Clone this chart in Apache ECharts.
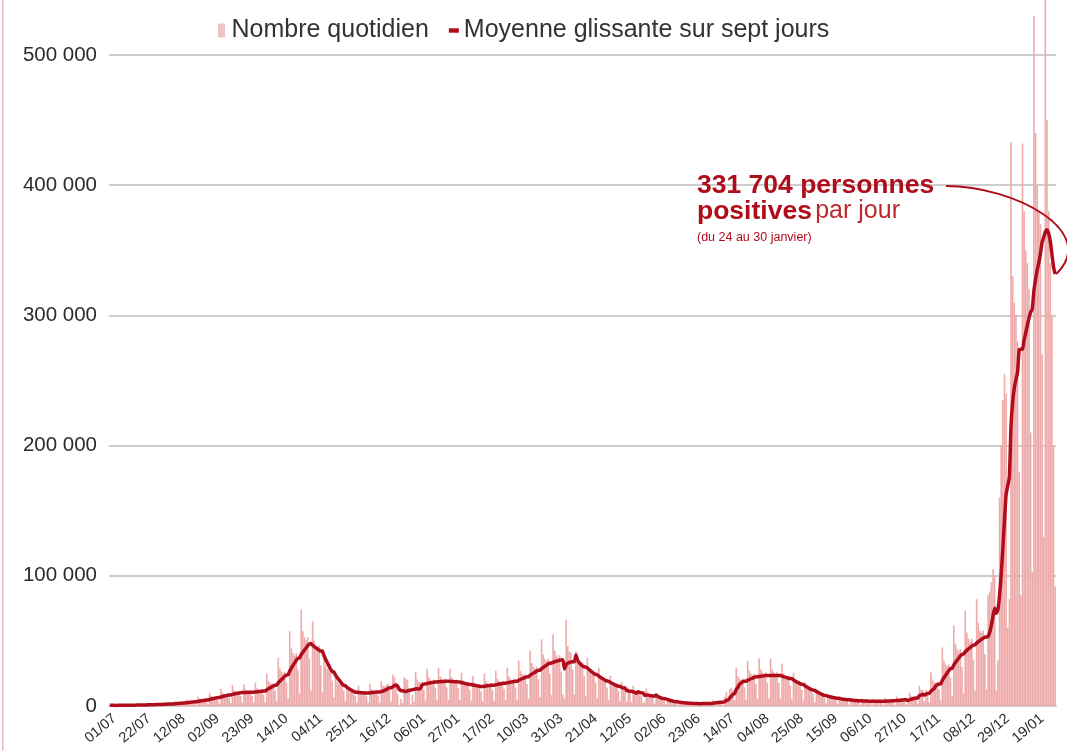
<!DOCTYPE html>
<html>
<head>
<meta charset="utf-8">
<script src="https://cdn.jsdelivr.net/npm/echarts@6/dist/echarts.min.js"></script>
<style>
  html, body { margin: 0; padding: 0; background: #ffffff; }
  #chart { width: 1067px; height: 751px; }
</style>
</head>
<body>
<div id="chart"></div>
<script>
// Daily count of people testing positive, from 1 July 2020 (a Wednesday) to 30 January 2022.
// One row per week, Monday to Sunday (the first row starts on Wednesday 1 July).
const firstDay = { year: 2020, month: 7, day: 1 };
const daily = [
  560, 530, 560, 380, 120,
  850, 660, 610, 580, 610, 410, 140,
  1090, 840, 770, 740, 770, 530, 180,
  1400, 1080, 990, 950, 990, 680, 230,
  1860, 1440, 1320, 1260, 1320, 900, 300,
  2480, 1920, 1760, 1680, 1760, 1200, 400,
  3570, 2760, 2530, 2420, 2530, 1730, 580,
  5120, 3960, 3630, 3470, 3630, 2480, 830,
  7130, 5520, 5060, 4830, 5060, 3450, 1150,
  10080, 7800, 7150, 6830, 7150, 4880, 1630,
  13180, 10200, 9350, 8930, 9350, 6380, 2130,
  15970, 12360, 11330, 10820, 11330, 7730, 2580,
  16430, 12720, 11660, 11130, 11660, 7950, 2650,
  17830, 13800, 12650, 12080, 12650, 8630, 2880,
  24800, 19200, 17600, 16800, 17600, 12000, 4000,
  37200, 28800, 26400, 25200, 26400, 18000, 6000,
  57350, 44400, 40700, 38850, 40700, 27750, 9250,
  74000, 57400, 52700, 50350, 52700, 36250, 12000,
  65100, 50400, 46200, 44100, 46200, 31500, 10500,
  40300, 31200, 28600, 27300, 28600, 19500, 6500,
  24030, 18600, 17050, 16280, 17050, 11630, 3880,
  16280, 12600, 11550, 11030, 11550, 7880, 2630,
  15500, 12000, 11000, 10500, 11000, 7500, 2500,
  16740, 12960, 11880, 11340, 11880, 8100, 2700,
  19000, 15500, 15000, 16000, 17000, 12000, 3500,
  24000, 22000, 18000, 9000, 800, 5500, 2200,
  22000, 21000, 20000, 13000, 1200, 8500, 3000,
  26350, 20400, 18700, 17850, 18700, 12750, 4250,
  28680, 22200, 20350, 19430, 20350, 13880, 4630,
  29450, 22800, 20900, 19950, 20900, 14250, 4750,
  28680, 22200, 20350, 19430, 20350, 13880, 4630,
  25580, 19800, 18150, 17330, 18150, 12380, 4130,
  23250, 18000, 16500, 15750, 16500, 11250, 3750,
  24800, 19200, 17600, 16800, 17600, 12000, 4000,
  27130, 21000, 19250, 18380, 19250, 13130, 4380,
  29450, 22800, 20900, 19950, 20900, 14250, 4750,
  34880, 27000, 24750, 23630, 24750, 16880, 5630,
  42630, 33000, 30250, 28880, 30250, 20630, 6880,
  51150, 39600, 36300, 34650, 36300, 24750, 8250,
  55030, 42600, 39050, 37280, 39050, 26630, 8880,
  6000, 66000, 46000, 42000, 41000, 28000, 9000,
  42000, 37000, 34000, 32500, 33500, 23000, 7500,
  37200, 28800, 26400, 25200, 26400, 18000, 6000,
  29450, 22800, 20900, 19950, 20900, 14250, 4750,
  23250, 18000, 16500, 15750, 16500, 11250, 3750,
  18600, 14400, 15500, 3500, 14000, 10000, 3000,
  15500, 12000, 11000, 10500, 11000, 7500, 2500,
  3000, 13500, 10500, 9000, 9000, 6000, 2000,
  8530, 6600, 6050, 5780, 6050, 4130, 1380,
  4960, 3840, 3520, 3360, 3520, 2400, 800,
  3410, 2640, 2420, 2310, 2420, 1650, 550,
  2790, 2160, 1980, 1890, 1980, 1350, 450,
  3100, 2400, 2200, 2100, 2200, 1500, 500,
  4650, 3600, 3300, 3150, 3300, 2250, 750,
  7000, 11000, 5000, 13000, 14000, 12000, 4500,
  29450, 22800, 20900, 19950, 20900, 14250, 4750,
  34880, 27000, 24750, 23630, 24750, 16880, 5630,
  36430, 28200, 25850, 24680, 25850, 17630, 5880,
  36430, 28200, 25850, 24680, 25850, 17630, 5880,
  32550, 25200, 23100, 22050, 23100, 15750, 5250,
  25580, 19800, 18150, 17330, 18150, 12380, 4130,
  18600, 14400, 13200, 12600, 13200, 9000, 3000,
  12400, 9600, 8800, 8400, 8800, 6000, 2000,
  9300, 7200, 6600, 6300, 6600, 4500, 1500,
  7440, 5760, 5280, 5040, 5280, 3600, 1200,
  6200, 4800, 4400, 4200, 4400, 3000, 1000,
  5740, 4440, 4070, 3890, 4070, 2780, 930,
  5580, 4320, 3960, 3780, 3960, 2700, 900,
  6200, 4800, 4400, 4200, 4400, 3000, 1000,
  7440, 5760, 5280, 5040, 5280, 3600, 1200,
  2500, 10500, 8000, 7500, 7800, 5500, 1800,
  15500, 12500, 12500, 3500, 12500, 9000, 3000,
  26350, 20400, 18700, 17850, 18700, 12750, 4250,
  44950, 34800, 31900, 30450, 31900, 21750, 7250,
  62000, 48000, 44000, 42000, 44000, 30000, 10000,
  72850, 56400, 51700, 49350, 51700, 35250, 11750,
  82000, 64000, 58000, 56000, 58000, 40000, 13000,
  85000, 88000, 95000, 105000, 100000, 12000, 35000,
  160000, 200000, 235000, 255000, 240000, 60000, 82000,
  433000, 330000, 310000, 300000, 280000, 180000, 85000,
  432000, 380000, 350000, 340000, 320000, 210000, 103000,
  530000, 440000, 400000, 380000, 370000, 270000, 130000,
  560000, 450000, 380000, 340000, 300000, 200000, 91928
];

const yTicks = [0, 100000, 200000, 300000, 400000, 500000];
const labelEvery = 21; // one date label every three weeks
const seriesNames = ['Nombre quotidien', 'Moyenne glissante sur sept jours'];
const notePeriod = '(du 24 au 30 janvier)';

// Day labels "dd/mm"
const pad = n => (n < 10 ? '0' : '') + n;
const days = daily.map((_, i) => {
  const d = new Date(Date.UTC(firstDay.year, firstDay.month - 1, firstDay.day + i));
  return pad(d.getUTCDate()) + '/' + pad(d.getUTCMonth() + 1);
});

// Seven-day trailing mean of the daily counts
const moyenne = daily.map((v, i) => {
  const w = daily.slice(Math.max(0, i - 6), i + 1);
  return w.reduce((a, b) => a + b, 0) / w.length;
});

const fmt = v => String(Math.round(v)).replace(/\B(?=(\d{3})+(?!\d))/g, ' ');
const FONT = '"Liberation Sans", Arial, Helvetica, sans-serif';
const RED = '#b00d1c';

const chart = echarts.init(document.getElementById('chart'), null, { renderer: 'canvas' });
chart.setOption({
  animation: false,
  backgroundColor: '#ffffff',
  grid: { left: 109, right: 11, top: 55, bottom: 45, containLabel: false },
  legend: {
    top: 13,
    left: 213,
    itemWidth: 10,
    itemHeight: 14,
    itemGap: 20,
    symbolKeepAspect: true,
    textStyle: { fontSize: 25, color: '#333333', fontFamily: FONT },
    data: [
      { name: seriesNames[0], icon: 'path://M0 0H7V14H0Z', itemStyle: { color: '#f3c2c2' } },
      { name: seriesNames[1], icon: 'path://M0 0H9V4H0Z', itemStyle: { color: RED } }
    ]
  },
  xAxis: {
    type: 'category',
    data: days,
    boundaryGap: true,
    axisLine: { show: true, lineStyle: { color: '#cdcdcd', width: 2 } },
    axisTick: { show: false },
    axisLabel: {
      interval: labelEvery - 1,
      rotate: 40,
      align: 'right',
      verticalAlign: 'top',
      margin: 5,
      fontSize: 14.5,
      color: '#2b2b2b',
      fontFamily: FONT
    },
    splitLine: { show: false }
  },
  yAxis: {
    type: 'value',
    min: yTicks[0],
    max: yTicks[yTicks.length - 1],
    interval: yTicks[1] - yTicks[0],
    axisLine: { show: false },
    axisTick: { show: false },
    axisLabel: { fontSize: 20.5, color: '#2b2b2b', margin: 12, fontFamily: FONT, formatter: fmt },
    splitLine: { show: true, lineStyle: { color: '#cdcdcd', width: 2 } }
  },
  series: [
    {
      name: seriesNames[0],
      type: 'bar',
      data: daily,
      barCategoryGap: '0%',
      clip: false,
      itemStyle: { color: '#eeabab' },
      emphasis: { disabled: true },
      z: 2
    },
    {
      name: seriesNames[1],
      type: 'line',
      data: moyenne,
      showSymbol: false,
      symbol: 'none',
      smooth: 0.2,
      lineStyle: { color: RED, width: 3.5 },
      itemStyle: { color: RED },
      emphasis: { disabled: true },
      z: 3
    }
  ]
});

// Annotation pointing at the last seven-day mean
const last = daily.length - 1;
const [px, py] = chart.convertToPixel({ gridIndex: 0 }, [last, moyenne[last]]);
chart.setOption({
  graphic: [
    {
      type: 'rect',
      left: 2, top: 0,
      shape: { width: 1.5, height: 751 },
      style: { fill: '#f1b9b9' },
      silent: true
    },
    {
      type: 'text',
      left: 697,
      top: 172,
      z: 20,
      style: {
        text: '{b|' + fmt(moyenne[last]) + ' personnes}\n{b|positives} {r|par jour}\n{s|' + notePeriod + '}',
        rich: {
          b: { fontSize: 26.5, fontWeight: 'bold', fill: RED, fontFamily: FONT, lineHeight: 26 },
          r: { fontSize: 25, fontWeight: 'normal', fill: '#c0282f', fontFamily: FONT, lineHeight: 26 },
          s: { fontSize: 12.5, fill: RED, fontFamily: FONT, lineHeight: 26 }
        }
      }
    },
    {
      type: 'bezierCurve',
      z: 20,
      shape: {
        x1: 946, y1: 186,
        cpx1: 1015, cpy1: 186,
        cpx2: 1100, cpy2: 232,
        x2: px + 1, y2: py
      },
      style: { stroke: RED, lineWidth: 2, fill: null }
    }
  ]
});
</script>
</body>
</html>
